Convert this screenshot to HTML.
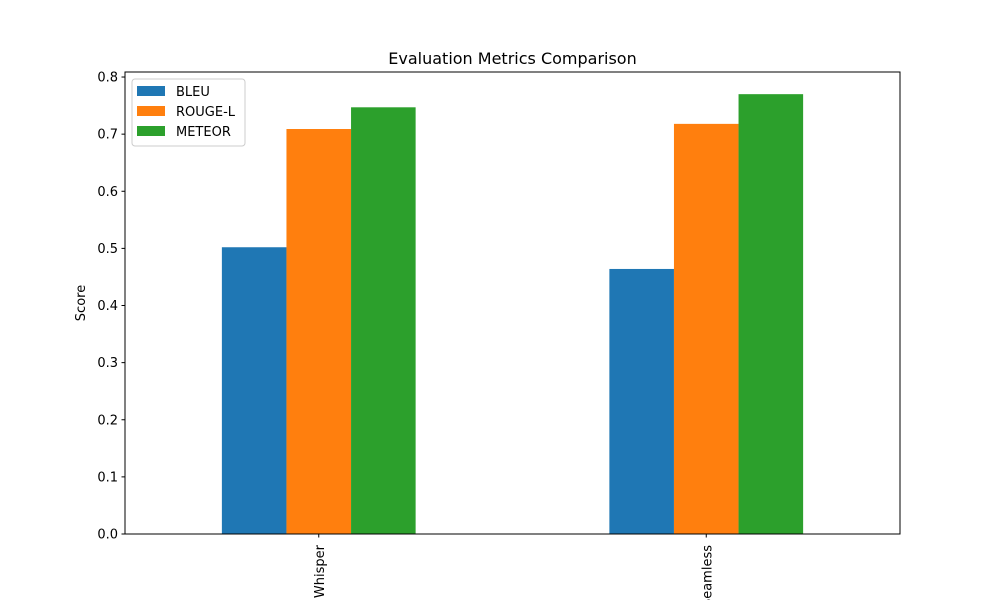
<!DOCTYPE html>
<html><head><meta charset="utf-8"><style>
body{margin:0;background:#fff;}
svg{font-family:"DejaVu Sans","Liberation Sans",sans-serif;}
</style></head><body>
<svg id="chart" width="1000" height="600" viewBox="0 0 1000 600">
<rect width="1000" height="600" fill="#fff"/>
<text x="512.5" y="64" font-size="16" text-anchor="middle">Evaluation Metrics Comparison</text>
<text x="0" y="0" font-size="13" text-anchor="middle" transform="translate(85,303) rotate(-90)">Score</text>
<g id="bars"></g><g id="axes"></g><g id="legend"></g>
</svg>
<script>
const categories=["Whisper","Seamless"];
const seriesNames=["BLEU","ROUGE-L","METEOR"];
const bleu=[0.502,0.464];
const rouge=[0.709,0.718];
const meteor=[0.747,0.770];
const yTicks=[0,0.1,0.2,0.3,0.4,0.5,0.6,0.7,0.8];
const colors=["#1f77b4","#ff7f0e","#2ca02c"];
const NS="http://www.w3.org/2000/svg";
const L=125,R=900,T=72,B=534,ymax=0.8088;
const xs=i=>L+(i+0.5)*(R-L)/categories.length;
const ys=v=>B-v/ymax*(B-T);
const unit=(R-L)/categories.length, bw=unit*0.5/3;
function mk(tag,attrs,parent){const e=document.createElementNS(NS,tag);for(const k in attrs)e.setAttribute(k,attrs[k]);parent.appendChild(e);return e;}
const bars=document.getElementById('bars'),axes=document.getElementById('axes'),leg=document.getElementById('legend');
const series=[bleu,rouge,meteor];
series.forEach((s,j)=>s.forEach((v,i)=>{
 const x=xs(i)-1.5*bw+j*bw;
 const r=mk('rect',{x:x,y:ys(v),width:bw,height:B-ys(v),fill:colors[j]},bars);
 
 
}));
const frame=mk('rect',{x:L,y:T,width:R-L,height:B-T,fill:'none',stroke:'#000','stroke-width':1},axes);


yTicks.forEach(t=>{
 const y=ys(t);
 const l=mk('line',{x1:L-3.5,x2:L,y1:y,y2:y,stroke:'#000'},axes);
 
 
 const tx=mk('text',{x:L-7,y:y+4.5,'font-size':13,'text-anchor':'end'},axes);
 tx.textContent=t.toFixed(1);
 
 
});
categories.forEach((c,i)=>{
 const x=xs(i);
 const l=mk('line',{x1:x,x2:x,y1:B,y2:B+3.5,stroke:'#000'},axes);
 
 
 const tx=mk('text',{x:0,y:0,'font-size':13,'text-anchor':'end',transform:`translate(${x+5},${B+11}) rotate(-90)`},axes);
 tx.textContent=c;
 
 
});
const box=mk('rect',{x:132,y:79,width:113,height:67,rx:3,fill:'#fff','fill-opacity':0.8,stroke:'#ccc'},leg);


seriesNames.forEach((n,j)=>{
 const y=86+j*20;
 const sw=mk('rect',{x:137,y:y,width:28,height:10,fill:colors[j]},leg);
 
 
 const tx=mk('text',{x:176,y:y+10,'font-size':13},leg);
 tx.textContent=n;
 
 
});
</script>
</body></html>
